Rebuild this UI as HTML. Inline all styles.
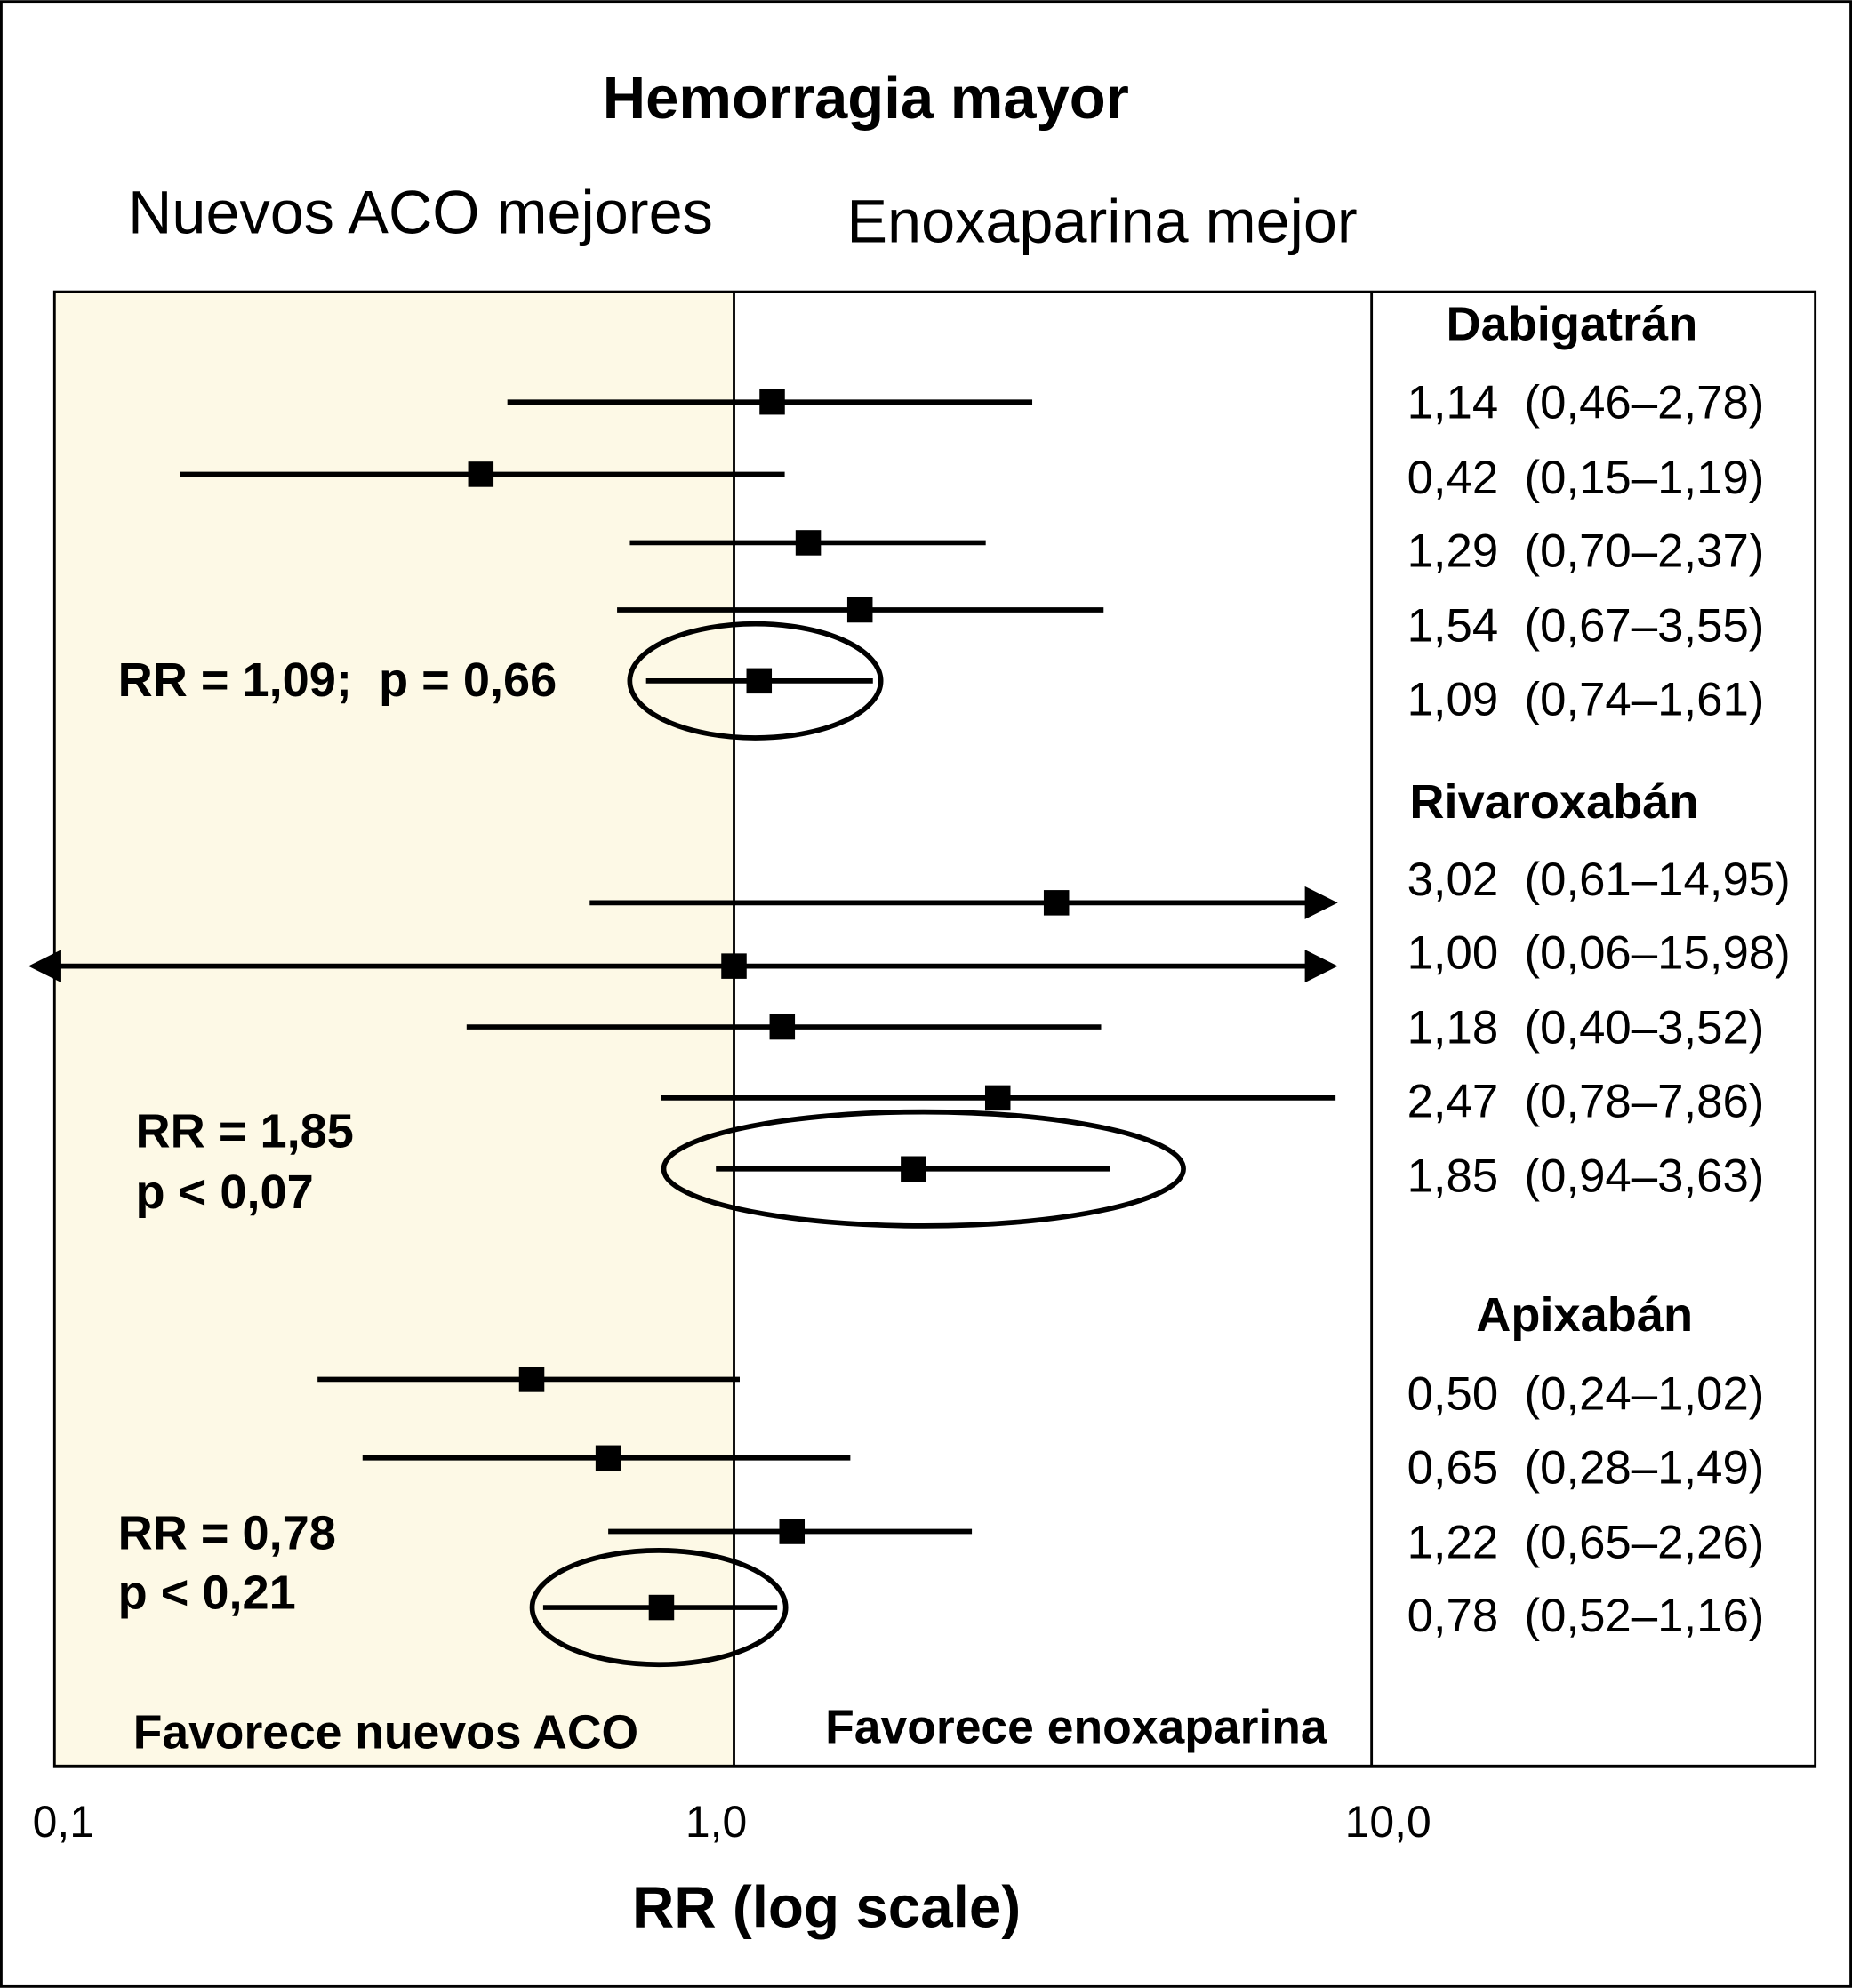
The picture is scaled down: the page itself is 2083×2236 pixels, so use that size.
<!DOCTYPE html>
<html><head><meta charset="utf-8"><style>
html,body{margin:0;padding:0;background:#fff;}
svg{display:block;font-family:"Liberation Sans",sans-serif;}
text{white-space:pre;}
</style></head><body>
<svg id="chart" width="2083" height="2236" viewBox="0 0 1461 1568" xmlns="http://www.w3.org/2000/svg" xml:space="preserve">
<rect x="1" y="1" width="1459" height="1566" fill="#fff" stroke="#000" stroke-width="2"/>
<rect x="43" y="230" width="536" height="1163" fill="#fdf9e6"/>
<rect x="43" y="230" width="1389" height="1163" fill="none" stroke="#000" stroke-width="2"/>
<line x1="1082" y1="230" x2="1082" y2="1393" stroke="#000" stroke-width="2"/>
<line x1="579" y1="230" x2="579" y2="1393" stroke="#000" stroke-width="2"/>
<text x="683" y="93" font-size="47" font-weight="bold" text-anchor="middle">Hemorragia mayor</text>
<text x="101" y="184" font-size="48">Nuevos ACO mejores</text>
<text x="668" y="191" font-size="48">Enoxaparina mejor</text>
<text x="1240" y="268" font-size="38" font-weight="bold" text-anchor="middle">Dabigatrán</text>
<text x="1226" y="645" font-size="38" font-weight="bold" text-anchor="middle">Rivaroxabán</text>
<text x="1250" y="1050" font-size="38" font-weight="bold" text-anchor="middle">Apixabán</text>
<text x="93" y="549" font-size="38" font-weight="bold">RR = 1,09;  p = 0,66</text>
<text x="107" y="905" font-size="38" font-weight="bold">RR = 1,85</text>
<text x="107" y="953" font-size="38" font-weight="bold">p &lt; 0,07</text>
<text x="93" y="1222" font-size="38" font-weight="bold">RR = 0,78</text>
<text x="93" y="1269" font-size="38" font-weight="bold">p &lt; 0,21</text>
<text x="105" y="1379" font-size="37.5" font-weight="bold">Favorece nuevos ACO</text>
<text x="651" y="1375" font-size="37.5" font-weight="bold">Favorece enoxaparina</text>
<text x="652" y="1520" font-size="46" font-weight="bold" text-anchor="middle">RR (log scale)</text>
<g id="marks"></g>
</svg>
<script>
const categories = ["1,14  (0,46–2,78)","0,42  (0,15–1,19)","1,29  (0,70–2,37)","1,54  (0,67–3,55)","1,09  (0,74–1,61)","3,02  (0,61–14,95)","1,00  (0,06–15,98)","1,18  (0,40–3,52)","2,47  (0,78–7,86)","1,85  (0,94–3,63)","0,50  (0,24–1,02)","0,65  (0,28–1,49)","1,22  (0,65–2,26)","0,78  (0,52–1,16)"];
const estimates = [1.14,0.42,1.29,1.54,1.09,3.02,1.00,1.18,2.47,1.85,0.50,0.65,1.22,0.78];
const lowers = [0.46,0.15,0.70,0.67,0.74,0.61,0.06,0.40,0.78,0.94,0.24,0.28,0.65,0.52];
const uppers = [2.78,1.19,2.37,3.55,1.61,14.95,15.98,3.52,7.86,3.63,1.02,1.49,2.26,1.16];
const summaryRows = [4,9,13];
const tickValues = [0.1,1,10];
const tickLabels = ["0,1","1,0","10,0"];

const rowY = [317,374,428,481,537,712,762,810,866,922,1088,1150,1208,1268];
const labelY = [317,376,434,493,551,693,751,810,868,927,1099,1157,1216,1274];
const ellipseRx = {4:99, 9:205, 13:100};
const ellipseDx = {4:-3, 9:8, 13:-2};
const NS = "http://www.w3.org/2000/svg";
const g = document.getElementById("marks");
const xMin = 0.098, xMax = 7.2, arrowAbove = 10;
function x(v){ return 579 + 530*Math.log10(v); }
function mk(tag, attrs){ const e=document.createElementNS(NS,tag); for(const k in attrs) e.setAttribute(k,attrs[k]); g.appendChild(e); return e; }

tickValues.forEach((t,i)=>{
  const tx = mk("text",{x: i===0?50:x(t)-14, y:1449, "font-size":35, "text-anchor": "middle"});
  tx.textContent = tickLabels[i];
  
  
});

estimates.forEach((est,i)=>{
  const y = rowY[i];
  const arrowR = uppers[i] > arrowAbove;
  const lo = Math.max(lowers[i], xMin), hi = arrowR ? xMax : uppers[i];
  const ln = mk("line",{x1:x(lo), y1:y, x2:x(hi), y2:y, stroke:"#000", "stroke-width":4});
  
  
  if (arrowR) {
    const a = mk("polygon",{points:`${x(xMax)+22},${y} ${x(xMax)-4},${y-13} ${x(xMax)-4},${y+13}`, fill:"#000"});
    
    
  }
  if (lowers[i] < xMin) {
    const a = mk("polygon",{points:`${x(xMin)-22},${y} ${x(xMin)+4},${y-13} ${x(xMin)+4},${y+13}`, fill:"#000"});
    
    
  }
  const sq = mk("rect",{x:x(est)-10, y:y-10, width:20, height:20, fill:"#000"});
  
  
  if (summaryRows.includes(i)) {
    const el = mk("ellipse",{cx:x(est)+ellipseDx[i], cy:y, rx:ellipseRx[i], ry:45, fill:"none", stroke:"#000", "stroke-width":4});
    
    
  }
  const lbl = mk("text",{x:1110, y:labelY[i]+13, "font-size":37});
  lbl.textContent = categories[i];
  
  
});
</script>
</body></html>
